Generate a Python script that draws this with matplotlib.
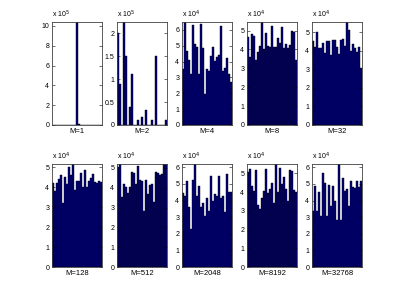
import matplotlib.pyplot as plt
import numpy as np

# Histogram counts per panel (25 bins), in units of 10^exp
labels = ['M=1', 'M=2', 'M=4', 'M=8', 'M=32',
          'M=128', 'M=512', 'M=2048', 'M=8192', 'M=32768']
exponents = [5, 5, 4, 4, 4, 4, 4, 4, 4, 4]

counts_m1 = [0, 0, 0, 0, 0, 0, 0, 0, 0, 0, 0, 0, 10.4, 0.1, 0,
             0, 0, 0, 0, 0, 0, 0, 0, 0, 0]
counts_m2 = [2.0, 0.9, 0, 2.25, 1.5, 0, 0.4, 1.12, 0, 0, 0.1, 0, 0.17, 0, 0.33,
             0, 0, 0.12, 0, 1.5, 0, 0, 0, 0, 0.12]
counts_m4 = [3.55, 6.5, 4.7, 4.1, 3.2, 6.3, 5.1, 4.95, 3.2, 6.35, 4.85, 1.95, 3.55,
             3.4, 4.35, 4.95, 4.05, 4.3, 4.4, 6.25, 3.4, 3.6, 4.25, 3.2, 2.7]
counts_m8 = [4.65, 3.6, 4.8, 4.7, 3.45, 3.85, 4.2, 5.45, 4.0, 4.85, 4.2, 4.15, 5.25,
             4.15, 4.15, 4.6, 4.35, 5.2, 4.05, 4.3, 4.05, 4.25, 4.95, 4.9, 3.45]
counts_m32 = [4.5, 4.2, 5.0, 4.15, 4.15, 4.4, 3.9, 4.55, 4.5, 3.75, 4.6, 4.6, 4.2,
              3.85, 4.6, 4.65, 4.25, 5.55, 5.1, 4.0, 4.35, 4.15, 3.95, 4.2, 3.05]
counts_m128 = [4.2, 3.8, 4.2, 4.4, 4.6, 3.2, 4.5, 4.15, 5.0, 4.6, 5.15, 3.85, 4.3,
               4.3, 4.7, 4.0, 4.85, 4.0, 4.3, 4.45, 4.65, 4.25, 4.2, 4.3, 4.25]
counts_m512 = [5.05, 5.2, 3.55, 4.2, 4.05, 3.75, 4.05, 4.8, 4.75, 4.2, 5.1, 4.4, 4.35,
               2.85, 4.4, 3.7, 4.15, 4.2, 3.3, 4.8, 4.75, 4.65, 4.7, 5.2, 5.2]
counts_m2048 = [4.45, 4.25, 5.15, 3.6, 2.3, 5.25, 6.2, 4.3, 4.85, 3.6, 3.85, 3.05, 4.15,
                3.35, 5.5, 3.95, 4.4, 4.3, 5.5, 4.15, 4.25, 3.3, 5.6, 4.5, 4.5]
counts_m8192 = [5.05, 5.25, 4.35, 4.05, 5.2, 3.3, 3.1, 3.7, 4.05, 5.25, 3.95, 4.15, 4.5,
                3.4, 5.5, 4.0, 5.3, 4.45, 4.8, 4.15, 3.5, 5.2, 5.1, 4.1, 4.0]
counts_m32768 = [3.35, 4.85, 3.4, 4.5, 3.1, 5.65, 5.05, 3.1, 4.95, 3.7, 4.9, 3.95, 2.8,
                 6.2, 2.8, 5.35, 4.6, 4.7, 3.7, 5.2, 4.8, 4.75, 5.15, 4.8, 5.15]

all_counts = [counts_m1, counts_m2, counts_m4, counts_m8, counts_m32,
              counts_m128, counts_m512, counts_m2048, counts_m8192, counts_m32768]
tick_steps = [2, 0.5, 1, 1, 1, 1, 1, 1, 1, 1]

plt.rcParams['font.family'] = ['Liberation Sans', 'DejaVu Sans']
fig = plt.figure(figsize=(4.0, 3.01), dpi=100)

W, H = 400, 301
lefts = [52, 117, 182, 247, 312]
row_tops = [22, 164]
ax_w, ax_h = 50, 103

for i, (lab, counts) in enumerate(zip(labels, all_counts)):
    row, col = divmod(i, 5)
    left = lefts[col] / W
    bottom = (H - row_tops[row] - ax_h) / H
    ax = fig.add_axes([left, bottom, ax_w / W, ax_h / H])
    counts = np.array(counts)
    x = np.arange(len(counts))
    ax.bar(x, counts, width=1.0, align='edge', color='#00007f',
           edgecolor='black', linewidth=0.3)
    ax.set_xlim(0, len(counts))
    ax.set_ylim(0, counts.max())
    step = tick_steps[i]
    ax.set_yticks(np.arange(0, counts.max() + 1e-9, step))
    ax.yaxis.set_major_formatter(plt.FuncFormatter(lambda v, p: f"{v:g}"))
    ax.set_xticks([])
    ax.tick_params(axis='y', direction='in', length=2, width=0.4,
                   labelsize=5, pad=2, right=True)
    for s in ax.spines.values():
        s.set_linewidth(0.6)
        s.set_color('#404040')
    ax.set_xlabel(lab, fontsize=5.5, labelpad=2)
    ax.text(0.0, 1.015, r'x 10$^{%d}$' % exponents[i], transform=ax.transAxes,
            fontsize=5, ha='left', va='bottom')

plt.savefig('out.png', dpi=100)
